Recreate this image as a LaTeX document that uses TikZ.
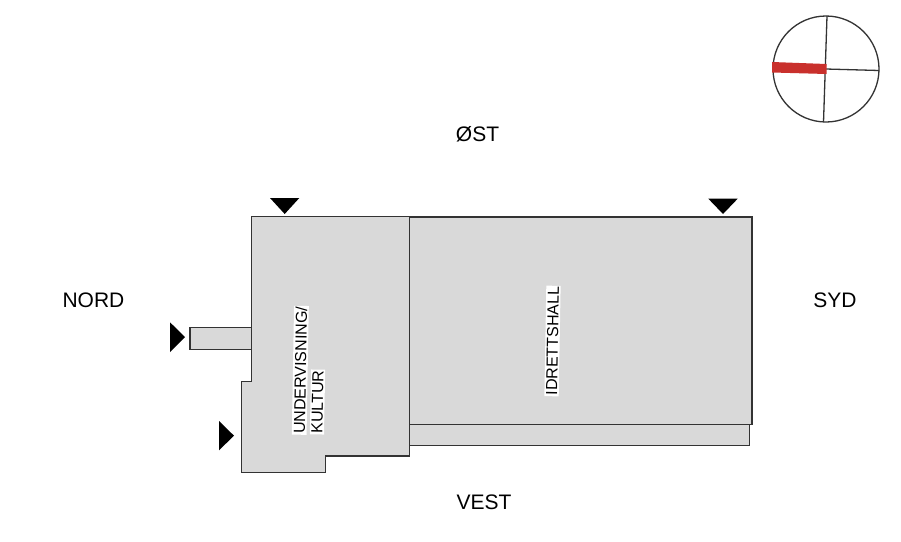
\documentclass[tikz,border=0pt]{standalone}
\usepackage{fontspec}
\setmainfont{Liberation Sans}
\definecolor{fillgrey}{HTML}{D9D9D9}
\definecolor{linegrey}{HTML}{333333}
\definecolor{compassred}{HTML}{C9302C}
\tikzset{
  room/.style={draw=linegrey,fill=fillgrey,line width=1.4pt,line join=miter},
  entrance/.style={fill=black,draw=none},
  compassline/.style={draw=linegrey,line width=1.3pt},
  direction/.style={font=\fontsize{21}{21}\selectfont,inner sep=0pt,text=black},
  roomlabel/.style={font=\fontsize{16}{16}\selectfont,fill=white,inner xsep=1pt,inner ysep=1.5pt,text=black,anchor=center}
}
\begin{document}
\begin{tikzpicture}[x=1pt,y=-1pt]
\useasboundingbox (0,0) rectangle (901,541);
\fill[white] (0,0) rectangle (901,541);
% compass
\draw[compassline] (826,69) circle[radius=53];
\draw[compassline] (827,16) -- (823.5,122);
\draw[compassline] (826,69) -- (879,70.5);
\fill[compassred] (772,62) -- (826.5,64) -- (826.5,74) -- (772,72.5) -- cycle;
% building
\draw[room] (409,424.5) rectangle (749.5,445.5);
\draw[room] (409,217) rectangle (752,424.5);
\draw[room] (190,327.5) rectangle (251.7,349.7);
\draw[room] (251.7,216.5) -- (409.3,216.5) -- (409.3,456) -- (325.7,456) -- (325.7,472.3) -- (241.7,472.3) -- (241.7,381.7) -- (251.7,381.7) -- cycle;
% entrances
\fill[entrance] (270,198) -- (299.3,198) -- (284.7,214) -- cycle;
\fill[entrance] (708.3,198.7) -- (737.7,198.7) -- (723,214) -- cycle;
\fill[entrance] (170,322.3) -- (170,352) -- (185,337) -- cycle;
\fill[entrance] (219,421) -- (219,450.3) -- (234,435.7) -- cycle;
% labels
\node[direction] (east) at (477.5,134) {ØST};
\node[direction] (north) at (93.5,300) {NORD};
\node[direction] (south) at (835,300) {SYD};
\node[direction] (west) at (484,502.5) {VEST};
\node[roomlabel,rotate=89] (teach) at (300.3,370.3) {UNDERVISNING/};
\node[roomlabel,rotate=89] (culture) at (317.5,402) {KULTUR};
\node[roomlabel,rotate=89] (hall) at (552.5,341) {IDRETTSHALL};
\end{tikzpicture}
\end{document}
